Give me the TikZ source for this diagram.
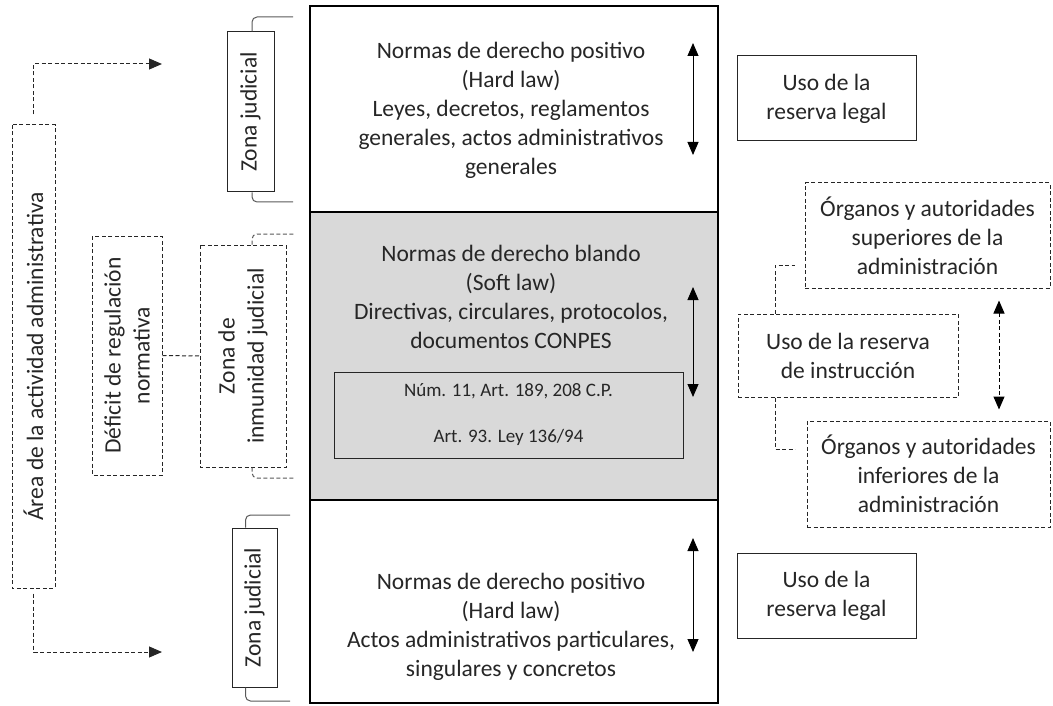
\documentclass[tikz,border=0pt]{standalone}
\usepackage{fontspec}
\setmainfont{Carlito}
\usetikzlibrary{arrows.meta}
\begin{document}
\begin{tikzpicture}[x=1pt,y=-1pt,
  txt/.style={text=black!85,align=center,font=\fontsize{23.5}{29}\selectfont,inner sep=0pt},
  sec/.style={draw=black,line width=2.2pt,inner sep=0pt},
  solidbox/.style={draw=black!85,line width=1pt,inner sep=0pt,text=black!85,align=center,font=\fontsize{23.5}{29}\selectfont},
  dashbox/.style={draw=black!85,line width=1pt,dash pattern=on 4pt off 2.5pt,inner sep=0pt,text=black!85,align=center,font=\fontsize{23.5}{29}\selectfont},
  dline/.style={draw=black!85,line width=1pt,dash pattern=on 4pt off 2.5pt},
  brk/.style={draw=black!65,line width=1pt,rounded corners=5pt},
  dbl/.style={draw=black,line width=1pt,{Triangle[length=13pt,width=11pt]}-{Triangle[length=13pt,width=11pt]}},
  dasharr/.style={dline,-{Triangle[length=13pt,width=11pt]}}
]
\useasboundingbox (0,0) rectangle (1053,706);

% main column
\node[sec,minimum width=408pt,minimum height=206pt] (hard1) at (514,109) {};
\node[sec,fill=black!15,minimum width=408pt,minimum height=288pt] (soft) at (514,356) {};
\node[sec,minimum width=408pt,minimum height=203pt] (hard2) at (514,601.5) {};

\node[txt] (hard1t) at (511,110) {Normas de derecho positivo\\(Hard law)\\Leyes, decretos, reglamentos\\generales, actos administrativos\\generales};
\node[txt] (softt) at (511,297) {Normas de derecho blando\\(Soft law)\\Directivas, circulares, protocolos,\\documentos CONPES};
\node[txt] (hard2t) at (511,627) {Normas de derecho positivo\\(Hard law)\\Actos administrativos particulares,\\singulares y concretos};

\node[draw=black!85,line width=1pt,minimum width=349pt,minimum height=86pt,inner sep=0pt,align=center,text=black!85,font=\fontsize{19}{46}\selectfont] (num) at (508.5,415) {Núm. 11, Art. 189, 208 C.P.\\Art. 93. Ley 136/94};

% double arrows inside column
\coordinate (a1t) at (693,43); \coordinate (a1b) at (693,155);
\draw[dbl] (a1t) -- (a1b);
\coordinate (a2t) at (693,287); \coordinate (a2b) at (693,397);
\draw[dbl] (a2t) -- (a2b);
\coordinate (a3t) at (693,538); \coordinate (a3b) at (693,652);
\draw[dbl] (a3t) -- (a3b);

% right boxes
\node[solidbox,minimum width=179pt,minimum height=85pt] (legal1) at (826.5,98.5) {Uso de la\\reserva legal};
\node[solidbox,minimum width=179pt,minimum height=85pt] (legal2) at (826.5,595.5) {Uso de la\\reserva legal};
\node[dashbox,minimum width=245pt,minimum height=105pt] (sup) at (927.5,235.5) {Órganos y autoridades\\superiores de la\\administración};
\node[dashbox,minimum width=220pt,minimum height=83pt] (instr) at (848,355.5) {Uso de la reserva\\de instrucción};
\node[dashbox,minimum width=243pt,minimum height=106pt] (inf) at (928.5,474) {Órganos y autoridades\\inferiores de la\\administración};

\draw[dline,draw=black,{Triangle[length=13pt,width=11pt]}-{Triangle[length=13pt,width=11pt]},shorten <=12pt,shorten >=11pt]
  ([xshift=71.5pt]sup.south) -- ([xshift=70.5pt]inf.north);

\coordinate (supc) at (795,265);
\coordinate (infc) at (795,449);
\draw[dline] ([xshift=-73pt]instr.north) |- (supc);
\draw[dline] ([xshift=-73pt]instr.south) |- (infc);

% left side
\node[dashbox,rotate=90,minimum width=463pt,minimum height=43pt] (area) at (33.5,356.5) {Área de la actividad administrativa};
\coordinate (areaT) at (162,64);
\coordinate (areaB) at (162,652);
\draw[dasharr] ([yshift=10pt]area.east) |- (areaT);
\draw[dasharr] ([yshift=-5pt]area.west) |- (areaB);

\node[dashbox,rotate=90,minimum width=239pt,minimum height=70pt] (def) at (127,355.5) {Déficit de regulación\\normativa};
\node[dashbox,rotate=90,minimum width=222pt,minimum height=86pt] (inm) at (243,356) {Zona de\\inmunidad judicial};
\draw[dline] (def.south) -- (inm.north);

\node[solidbox,rotate=90,minimum width=160pt,minimum height=47pt] (zj1) at (250.5,112) {Zona judicial};
\node[solidbox,rotate=90,minimum width=159pt,minimum height=45pt] (zj2) at (254.5,607.5) {Zona judicial};

% brackets
\coordinate (b1t) at (293,17); \coordinate (b1b) at (293,202);
\draw[brk] ([xshift=1.5pt]zj1.east) |- (b1t);
\draw[brk] ([xshift=1.5pt]zj1.west) |- (b1b);
\coordinate (b2t) at (295,234); \coordinate (b2b) at (295,478);
\draw[brk,dash pattern=on 4pt off 2.5pt] ([xshift=9pt]inm.east) |- (b2t);
\draw[brk,dash pattern=on 4pt off 2.5pt] ([xshift=9pt]inm.west) |- (b2b);
\coordinate (b3t) at (290,515); \coordinate (b3b) at (290,701);
\draw[brk] ([xshift=-9pt]zj2.east) |- (b3t);
\draw[brk] ([xshift=-9pt]zj2.west) |- (b3b);
\end{tikzpicture}
\end{document}
